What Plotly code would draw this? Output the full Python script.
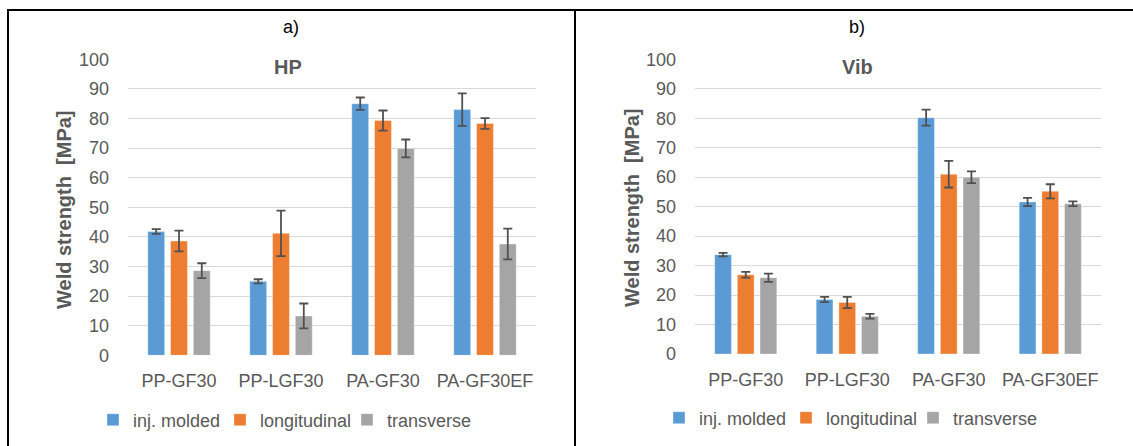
import plotly.graph_objects as go

categories = ["PP-GF30", "PP-LGF30", "PA-GF30", "PA-GF30EF"]
series_names = ["inj. molded", "longitudinal", "transverse"]
colors = ["#5B9BD5", "#ED7D31", "#A5A5A5"]

hp_values = [
    [41.8, 25.0, 85.0, 83.0],
    [38.6, 41.2, 79.3, 78.3],
    [28.6, 13.3, 69.9, 37.6],
]
hp_errors = [
    [0.8, 0.7, 2.1, 5.5],
    [3.5, 7.7, 3.4, 1.8],
    [2.5, 4.2, 3.0, 5.2],
]
vib_values = [
    [33.7, 18.5, 80.2, 51.6],
    [26.9, 17.5, 61.0, 55.2],
    [25.9, 12.8, 60.0, 51.0],
]
vib_errors = [
    [0.6, 0.9, 2.7, 1.4],
    [1.0, 1.9, 4.5, 2.4],
    [1.4, 0.8, 2.0, 0.8],
]
y_ticks = [0, 10, 20, 30, 40, 50, 60, 70, 80, 90, 100]

W, H = 1133, 446
FONT = "Liberation Sans, Arial, sans-serif"
GRAY = "#595959"

def px(x):
    return x / W

def py(y):
    return 1 - y / H

fig = go.Figure()

for panel, (vals, errs) in enumerate([(hp_values, hp_errors), (vib_values, vib_errors)]):
    xa = "x" if panel == 0 else "x2"
    ya = "y" if panel == 0 else "y2"
    lg = "legend" if panel == 0 else "legend2"
    for i, name in enumerate(series_names):
        fig.add_trace(go.Bar(
            x=categories, y=vals[i], name=name,
            marker=dict(color=colors[i], line=dict(width=1, color="rgba(255,255,255,0.35)")),
            error_y=dict(type="data", array=errs[i], visible=True,
                         color="#505050", thickness=1.8, width=4.5),
            xaxis=xa, yaxis=ya, legend=lg,
        ))

axis_x = dict(showgrid=False, zeroline=False, showline=False, ticks="",
              tickfont=dict(family=FONT, size=18, color=GRAY), ticklabelstandoff=13,
              automargin=False, fixedrange=True)
axis_y = dict(range=[0, 100], tickvals=y_ticks, showgrid=True, gridcolor="#D9D9D9",
              gridwidth=1, zeroline=False, showline=False, ticks="",
              tickfont=dict(family=FONT, size=18, color=GRAY), ticklabelstandoff=18,
              automargin=False, fixedrange=True)

legend_common = dict(orientation="h", font=dict(family=FONT, size=18, color=GRAY),
                     bgcolor="rgba(0,0,0,0)", yanchor="middle", xanchor="left",
                     itemwidth=30, entrywidth=82, entrywidthmode="pixels",
                     traceorder="normal", itemclick=False, itemdoubleclick=False)

fig.update_layout(
    width=W, height=H,
    margin=dict(l=0, r=0, t=0, b=0, pad=0),
    paper_bgcolor="white", plot_bgcolor="white",
    barmode="group", bargap=0.33, bargroupgap=0.26,
    font=dict(family=FONT, color=GRAY),
    xaxis=dict(domain=[px(128), px(536)], anchor="y", **axis_x),
    yaxis=dict(domain=[py(355.3), py(59.3)], anchor="x", **axis_y),
    xaxis2=dict(domain=[px(695), px(1101)], anchor="y2", **axis_x),
    yaxis2=dict(domain=[py(354), py(59.3)], anchor="x2", **axis_y),
    legend=dict(x=px(93), y=py(420), **legend_common),
    legend2=dict(x=px(659), y=py(418), **legend_common),
)

annotations = [
    dict(text="a)", x=px(291), y=py(27), font=dict(family=FONT, size=18, color="black")),
    dict(text="b)", x=px(857), y=py(27), font=dict(family=FONT, size=18, color="black")),
    dict(text="<b>HP</b>", x=px(288), y=py(67), font=dict(family=FONT, size=20, color=GRAY),
         bgcolor="white", borderpad=4),
    dict(text="<b>Vib</b>", x=px(857), y=py(67), font=dict(family=FONT, size=20, color=GRAY),
         bgcolor="white", borderpad=4),
    dict(text="<b>Weld strength  [MPa]</b>", x=px(64), y=py(210), textangle=-90,
         font=dict(family=FONT, size=20, color=GRAY)),
    dict(text="<b>Weld strength  [MPa]</b>", x=px(632), y=py(208), textangle=-90,
         font=dict(family=FONT, size=20, color=GRAY)),
]
for a in annotations:
    a.update(xref="paper", yref="paper", showarrow=False, xanchor="center", yanchor="middle")
fig.update_layout(annotations=annotations)

border = dict(color="black", width=2)
fig.update_layout(shapes=[
    dict(type="line", xref="paper", yref="paper", x0=px(7), x1=1, y0=py(10), y1=py(10), line=border),
    dict(type="line", xref="paper", yref="paper", x0=px(8), x1=px(8), y0=py(10), y1=0, line=border),
    dict(type="line", xref="paper", yref="paper", x0=px(575), x1=px(575), y0=py(10), y1=0, line=border),
])

fig.write_html(
    "out.html",
    config={"displayModeBar": False},
    post_script="document.body.style.margin='0';document.body.style.overflow='hidden';",
)
